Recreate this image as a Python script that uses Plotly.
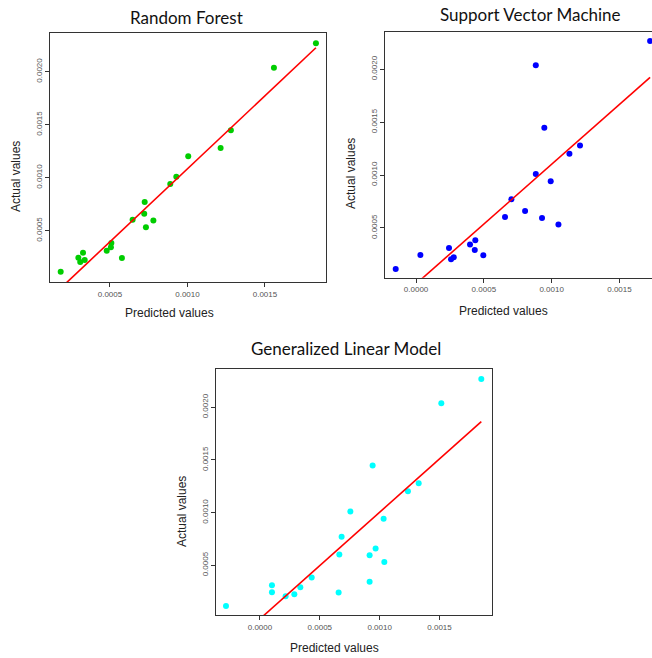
import plotly.graph_objects as go
import numpy as np

# Actual (observed) values, shared by the three models
actual = [0.000113, 0.000205, 0.000224, 0.000242, 0.000245, 0.000292, 0.000311,
          0.000343, 0.000384, 0.000532, 0.000595, 0.000603, 0.000660, 0.000771,
          0.000941, 0.001010, 0.001202, 0.001280, 0.001447, 0.002038, 0.002268]

# Predicted values per model (same order as actual)
pred_rf = [0.000182, 0.000308, 0.000337, 0.000577, 0.000296, 0.000326, 0.000479,
           0.000506, 0.000509, 0.000732, 0.000780, 0.000646, 0.000721, 0.000724,
           0.000889, 0.000928, 0.001005, 0.001214, 0.001280, 0.001558, 0.001829]
pred_svm = [-0.000150, 0.000258, 0.000278, 0.000496, 0.000032, 0.000433, 0.000243,
            0.000398, 0.000437, 0.001050, 0.000929, 0.000656, 0.000804, 0.000703,
            0.000993, 0.000883, 0.001131, 0.001209, 0.000946, 0.000883, 0.001726]
pred_glm = [-0.000284, 0.000214, 0.000287, 0.000657, 0.000100, 0.000337, 0.000100,
            0.000916, 0.000432, 0.001039, 0.000916, 0.000663, 0.000966, 0.000682,
            0.001033, 0.000755, 0.001236, 0.001326, 0.000941, 0.001515, 0.001849]

# Fitted regression lines (intercept, slope)
fit_rf = (-0.000293, 1.377)
fit_svm = (-0.000028, 1.130)
fit_glm = (-0.000009, 1.013)

titles = ["Random Forest", "Support Vector Machine", "Generalized Linear Model"]
x_label = "Predicted values"
y_label = "Actual values"

W, H = 652, 658

panels = [
    dict(pred=pred_rf, fit=fit_rf, color="#00CD00", xr=[0.000113, 0.001894], yr=[0.000016, 0.002365],
         box=(50, 326, 33, 282), title_xy=(186, 17), xt_xy=(169, 313), yt_xy=(16, 177), right=True),
    dict(pred=pred_svm, fit=fit_svm, color="#0000FF", xr=[-0.000229, 0.00174], yr=[0.00003, 0.002355],
         box=(385, 652, 31.7, 277.7), title_xy=(530, 15), xt_xy=(503, 311), yt_xy=(351, 174), right=False),
    dict(pred=pred_glm, fit=fit_glm, color="#00FFFF", xr=[-0.00037, 0.001936], yr=[0.000028, 0.002364],
         box=(215.7, 491.7, 369, 615), title_xy=(346, 348), xt_xy=(334.5, 648), yt_xy=(182, 512), right=True),
]

fig = go.Figure()
annotations = []
layout = {}
for i, p in enumerate(panels):
    n = "" if i == 0 else str(i + 1)
    xa, ya = "x" + n, "y" + n
    fig.add_trace(go.Scatter(x=p["pred"], y=actual, mode="markers", xaxis=xa, yaxis=ya,
                             marker=dict(color=p["color"], size=6, line=dict(width=0)),
                             showlegend=False, hoverinfo="x+y"))
    b0, b1 = p["fit"]
    lx = np.array([min(p["pred"]), max(p["pred"])])
    fig.add_trace(go.Scatter(x=lx, y=b0 + b1 * lx, mode="lines", xaxis=xa, yaxis=ya,
                             line=dict(color="#FF0000", width=1.6), showlegend=False, hoverinfo="skip"))
    x0, x1, y0, y1 = p["box"]
    common = dict(showgrid=False, zeroline=False, showline=True, linecolor="#333333", linewidth=1,
                  ticks="outside", ticklen=4, tickcolor="#333333", tickwidth=1,
                  tickformat=".4f", dtick=0.0005, tick0=0,
                  tickfont=dict(family="Liberation Sans", size=8, color="#555555"))
    layout["xaxis" + n] = dict(common, domain=[x0 / W, x1 / W], range=p["xr"], anchor=ya,
                               mirror=True)
    layout["yaxis" + n] = dict(common, domain=[1 - y1 / H, 1 - y0 / H], range=p["yr"], anchor=xa,
                               mirror=p["right"], tickangle=-90)
    tx, ty = p["title_xy"]
    annotations.append(dict(text=titles[i], x=tx / W, y=1 - ty / H, xref="paper", yref="paper",
                            showarrow=False, xanchor="center", yanchor="middle",
                            font=dict(family="Lato", size=17, color="#111111")))
    ax, ay = p["xt_xy"]
    annotations.append(dict(text=x_label, x=ax / W, y=1 - ay / H, xref="paper", yref="paper",
                            showarrow=False, xanchor="center", yanchor="middle",
                            font=dict(family="Liberation Sans", size=12, color="#222222")))
    bx, by = p["yt_xy"]
    annotations.append(dict(text=y_label, x=bx / W, y=1 - by / H, xref="paper", yref="paper",
                            showarrow=False, xanchor="center", yanchor="middle", textangle=-90,
                            font=dict(family="Liberation Sans", size=12, color="#222222")))

fig.update_layout(width=W, height=H, margin=dict(l=0, r=0, t=0, b=0),
                  paper_bgcolor="white", plot_bgcolor="white",
                  annotations=annotations, **layout)

fig.write_html("out.html", config={"displayModeBar": False},
               post_script="document.body.style.margin='0px';document.body.style.overflow='hidden';")
